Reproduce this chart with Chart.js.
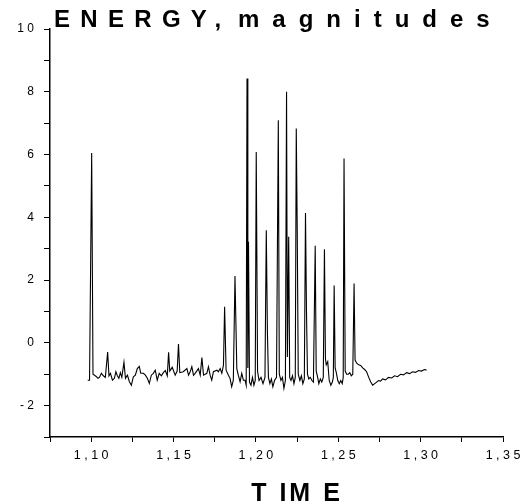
<!DOCTYPE html>
<html>
<head>
<meta charset="utf-8">
<script src="https://cdn.jsdelivr.net/npm/chart.js@4/dist/chart.umd.min.js"></script>
<style>
  html, body { margin: 0; padding: 0; background: #fff; }
  canvas { display: block; }
</style>
</head>
<body>
<canvas id="chartjs-0" width="528" height="504"></canvas>
<script>
"use strict";

var titleWords = ["ENERGY,", "magnitudes"];
var axisTitle = "T IM E";

// time values
var times = [
    1.0979, 1.0990, 1.1003, 1.1011, 1.1020, 1.1032, 1.1041, 1.1050, 1.1062, 1.1074,
    1.1086, 1.1100, 1.1108, 1.1117, 1.1129, 1.1141, 1.1150, 1.1159, 1.1168, 1.1177,
    1.1186, 1.1199, 1.1208, 1.1220, 1.1232, 1.1244, 1.1256, 1.1268, 1.1280, 1.1292,
    1.1301, 1.1317, 1.1329, 1.1341, 1.1353, 1.1365, 1.1377, 1.1389, 1.1401, 1.1413,
    1.1426, 1.1438, 1.1450, 1.1462, 1.1470, 1.1477, 1.1492, 1.1510, 1.1522, 1.1530,
    1.1538,
    1.1559, 1.1581, 1.1591, 1.1601, 1.1611, 1.1621, 1.1631, 1.1651, 1.1662, 1.1672,
    1.1682, 1.1702, 1.1712, 1.1722, 1.1732, 1.1742, 1.1763, 1.1772, 1.1783, 1.1793,
    1.1803, 1.1810, 1.1819, 1.1833, 1.1843, 1.1853, 1.1863, 1.1873, 1.1884, 1.1893,
    1.1904, 1.1914, 1.1924, 1.1934, 1.1941, 1.1946, 1.1951, 1.1955, 1.1961, 1.1970,
    1.1979, 1.1988, 1.1996, 1.2002, 1.2010, 1.2019, 1.2031, 1.2043, 1.2055, 1.2063,
    1.2070, 1.2076, 1.2085, 1.2094, 1.2103, 1.2113, 1.2125, 1.2136, 1.2142, 1.2152,
    1.2161, 1.2170, 1.2179, 1.2186, 1.2191, 1.2199, 1.2205, 1.2213, 1.2222, 1.2231,
    1.2239, 1.2245, 1.2251, 1.2257, 1.2267, 1.2276, 1.2285, 1.2294, 1.2301, 1.2307,
    1.2313, 1.2321, 1.2330, 1.2340, 1.2349, 1.2360, 1.2366, 1.2373, 1.2382, 1.2391,
    1.2400, 1.2409, 1.2416, 1.2422, 1.2427, 1.2436, 1.2445, 1.2455, 1.2464, 1.2470,
    1.2475, 1.2481, 1.2488, 1.2497, 1.2506, 1.2515, 1.2524, 1.2530, 1.2535, 1.2542,
    1.2551, 1.2561, 1.2570, 1.2579, 1.2588, 1.2596, 1.2602, 1.2612, 1.2624, 1.2636,
    1.2648, 1.2660, 1.2672, 1.2685, 1.2697, 1.2709, 1.2721, 1.2733, 1.2745, 1.2757,
    1.2769, 1.2787, 1.2805, 1.2824, 1.2842, 1.2860, 1.2878, 1.2896, 1.2915, 1.2933,
    1.2951, 1.2969, 1.2987, 1.3005, 1.3023, 1.3036
];

// energy (magnitudes) at each time
var energy = [
    -1.19, -1.19, 6.05, -1.00, -1.03, -1.08, -1.13, -1.10, -0.97, -1.05,
    -1.10, -0.29, -1.05, -0.97, -1.19, -1.13, -0.92, -1.05, -1.13, -0.95,
    -1.10, -0.62, -1.13, -1.03, -1.24, -1.35, -1.08, -1.03, -0.82, -0.75,
    -0.97, -0.97, -1.03, -1.13, -1.29, -1.03, -0.97, -0.87, -1.19, -0.97,
    -1.05, -0.95, -0.88, -1.05, -0.30, -0.90, -0.78, -1.03, -0.90, -0.04,
    -0.95,
    -0.92, -0.82, -1.03, -0.92, -0.76, -1.03, -0.97, -0.82, -1.03, -0.47,
    -1.03, -0.97, -0.76, -1.03, -1.19, -0.92, -0.87, -0.92, -0.82, -0.97,
    -0.71, 1.15, -0.87, -1.03, -1.13, -1.40, -1.19, 2.13, -0.82, -1.03,
    -1.24, -0.97, -1.19, -1.19, -1.35, 8.42, -0.80, 3.22, -1.25, -1.35,
    -1.10, -1.35, -1.20, 6.08, -0.90, -1.20, -1.10, -1.30, -1.10, 3.59,
    0.30, -1.10, -1.30, -1.15, -1.40, -1.20, -1.10, 7.09, -1.00, -1.20,
    -1.10, -1.45, -1.20, 8.00, -0.45, 3.38, -1.10, -1.20, -1.05, -1.30,
    -1.10, 6.83, 3.50, -1.00, -1.20, -1.05, -1.30, -1.15, 4.14, 1.00,
    -1.00, -1.15, -1.10, -1.20, -1.25, 3.09, -0.90, -1.05, -1.30, -1.15,
    -1.25, -1.10, 2.98, -0.50, -0.70, -0.60, -1.20, -1.35, -1.25, -1.10,
    1.83, -0.80, -0.95, -1.20, -1.30, -1.20, -1.30, -1.10, 5.87, -0.90,
    -1.00, -1.00, -0.95, -1.05, -1.00, 1.89, -0.55, -0.65, -0.70, -0.72,
    -0.80, -0.85, -0.92, -1.10, -1.25, -1.35, -1.30, -1.25, -1.20, -1.22,
    -1.15, -1.18, -1.10, -1.12, -1.05, -1.08, -1.00, -1.02, -0.95, -0.98,
    -0.92, -0.94, -0.88, -0.90, -0.85, -0.87
];

var xMin = 1.075, xMax = 1.35, xStep = 0.025;
var yMin = -3, yMax = 10, yStep = 1;

var points = [];
for (var i = 0; i < times.length; i++) {
    points.push({ x: times[i], y: energy[i] });
}

// spaced-out label text like the original plot
function spaced(s) {
    return s.split("").join(" ");
}

var titlePlugin = {
    id: "titles",
    afterDraw: function (chart) {
        var ctx = chart.ctx;
        ctx.save();
        ctx.fillStyle = "#000";
        ctx.textBaseline = "alphabetic";
        ctx.font = "bold 24px 'Liberation Sans', Arial, sans-serif";
        ctx.textAlign = "left";
        ctx.letterSpacing = "10.3px";
        ctx.fillText(titleWords[0], 54, 27);
        ctx.letterSpacing = "13px";
        ctx.fillText(titleWords[1], 238, 27);
        ctx.font = "bold 25px 'Liberation Sans', Arial, sans-serif";
        ctx.textAlign = "center";
        ctx.letterSpacing = "3px";
        ctx.fillText(axisTitle, 297, 501);
        ctx.restore();
    }
};

var ctx0 = document.getElementById("chartjs-0");
var myChart = new Chart(ctx0, {
    type: "line",
    data: {
        datasets: [{
            label: "Energy",
            data: points,
            fill: false,
            borderColor: "#000",
            borderWidth: 1.1,
            pointRadius: 0,
            tension: 0
        }]
    },
    options: {
        responsive: false,
        animation: false,
        layout: { padding: { top: 29, right: 25, left: 0, bottom: 0 } },
        plugins: {
            legend: { display: false },
            tooltip: { enabled: false }
        },
        scales: {
            x: {
                type: "linear",
                min: xMin,
                max: xMax,
                border: { display: true, color: "#000", width: 1.5 },
                grid: { drawOnChartArea: false, drawTicks: true, tickLength: 5, color: "#000", lineWidth: 1 },
                ticks: {
                    stepSize: xStep,
                    autoSkip: false,
                    maxRotation: 0,
                    color: "#000",
                    padding: 6,
                    font: { family: "'Liberation Sans', Arial, sans-serif", size: 12.5 },
                    callback: function (value) {
                        if (Math.round(value * 40) % 2 !== 0) return "";
                        return spaced(value.toFixed(2).replace(".", ","));
                    }
                },
                afterFit: function (scale) { scale.height = 67; }
            },
            y: {
                min: yMin,
                max: yMax,
                border: { display: true, color: "#000", width: 1.5 },
                grid: { drawOnChartArea: false, drawTicks: true, tickLength: 6, color: "#000", lineWidth: 1 },
                ticks: {
                    stepSize: yStep,
                    autoSkip: false,
                    color: "#000",
                    padding: 10,
                    font: { family: "'Liberation Sans', Arial, sans-serif", size: 12 },
                    callback: function (value) {
                        if (Math.abs(value % 2) === 1) return "";
                        return spaced(String(value));
                    }
                },
                afterFit: function (scale) { scale.width = 50; }
            }
        }
    },
    plugins: [titlePlugin]
});
</script>
</body>
</html>
